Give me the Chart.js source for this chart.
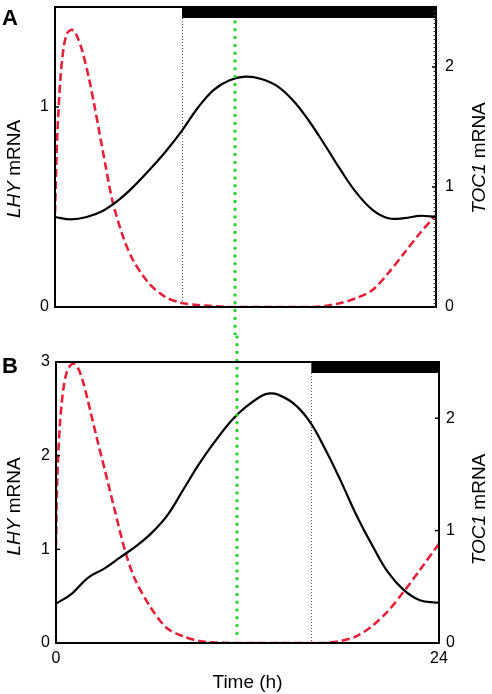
<!DOCTYPE html>
<html>
<head>
<meta charset="utf-8">
<script src="https://cdn.jsdelivr.net/npm/chart.js@4.4.1/dist/chart.umd.min.js"></script>
<style>
  html, body { margin: 0; padding: 0; background: #fff; }
  canvas { display: block; }
</style>
</head>
<body>
<canvas id="panelA" width="492" height="335"></canvas>
<canvas id="panelB" width="492" height="359"></canvas>
<script>
// ---- data ----
// Panel A
const tocTimeA = [0, 1, 2, 3, 4, 5, 6, 7, 8, 9, 10, 11, 12, 13, 14, 15, 16, 17, 18, 19, 20, 21, 22, 23, 24];
const tocA     = [0.75, 0.73, 0.75, 0.80, 0.89, 1.01, 1.15, 1.30, 1.47, 1.66, 1.81, 1.89, 1.92, 1.90, 1.84, 1.72, 1.55, 1.35, 1.14, 0.95, 0.81, 0.74, 0.74, 0.76, 0.75];
const lhyTimeA = [0, 0.15, 0.36, 0.57, 0.78, 1.0, 1.2, 1.41, 1.72, 2.15, 2.5, 2.78, 3.2, 3.62, 4.25, 4.88, 5.9, 6.95, 8, 9, 10, 11, 16, 17, 18, 19, 20, 21, 22, 23, 24];
const lhyA     = [0.47, 0.87, 1.16, 1.31, 1.37, 1.385, 1.38, 1.35, 1.28, 1.14, 1.00, 0.88, 0.70, 0.53, 0.36, 0.24, 0.12, 0.05, 0.02, 0.01, 0.004, 0, 0, 0.005, 0.02, 0.045, 0.085, 0.17, 0.27, 0.37, 0.46];

// Panel B
const tocTimeB = [0, 1, 2, 3, 4, 5, 6, 7, 8, 9, 10, 11, 11.9, 12.9, 13.4, 13.9, 14.9, 15.9, 16.85, 17.85, 18.85, 19.85, 20.8, 21.8, 22.8, 23.8, 24];
const tocB     = [0.35, 0.44, 0.58, 0.66, 0.76, 0.86, 0.98, 1.14, 1.37, 1.60, 1.80, 1.98, 2.10, 2.20, 2.22, 2.21, 2.13, 1.97, 1.73, 1.44, 1.13, 0.86, 0.63, 0.47, 0.38, 0.36, 0.36];
const lhyTimeB = [0, 0.08, 0.25, 0.46, 0.67, 0.88, 1.13, 1.4, 1.71, 1.98, 2.57, 3.1, 3.62, 4.32, 4.95, 5.89, 6.94, 7.98, 9.02, 10, 11, 16.5, 17.8, 18.8, 19.8, 20.8, 21.8, 22.8, 24];
const lhyB     = [1.03, 1.75, 2.35, 2.71, 2.89, 2.96, 2.98, 2.93, 2.78, 2.60, 2.18, 1.82, 1.46, 0.99, 0.68, 0.39, 0.16, 0.07, 0.02, 0.005, 0, 0, 0.02, 0.07, 0.18, 0.34, 0.55, 0.78, 1.06];

// axes
const timeTicks = [0, 24];
const lhyTicksA = [0, 1];
const lhyTicksB = [0, 1, 2, 3];
const tocTicks  = [0, 1, 2];
const lhyMaxA = 1.5, lhyMaxB = 3, tocMax = 2.5;

// dark period starts, and the marker time (green line)
const darkStartA = 8;
const darkStartB = 16;
const markerTime = 11.34;

const FONT = "'Liberation Sans', Arial, Helvetica, sans-serif";
const RED = "#e3223a";

const pts = (ts, vs) => ts.map((t, i) => ({ x: t, y: vs[i] }));

function drawVerticalTitle(ctx, x, y, parts) {
  ctx.save();
  ctx.translate(x, y);
  ctx.rotate(-Math.PI / 2);
  ctx.textBaseline = "middle";
  ctx.textAlign = "left";
  ctx.fillStyle = "#000";
  const widths = parts.map(p => { ctx.font = p.font; return ctx.measureText(p.text).width; });
  let pos = -widths.reduce((a, b) => a + b, 0) / 2;
  parts.forEach((p, i) => { ctx.font = p.font; ctx.fillText(p.text, pos, 0); pos += widths[i]; });
  ctx.restore();
}

function seg(ctx, x1, y1, x2, y2) {
  ctx.beginPath(); ctx.moveTo(x1, y1); ctx.lineTo(x2, y2); ctx.stroke();
}

const panelDecor = {
  id: "panelDecor",
  beforeDatasetsDraw(chart, args, o) {
    const { ctx, chartArea: a, scales: { x } } = chart;
    const xd = Math.round(x.getPixelForValue(o.darkStart)) + 0.5;
    ctx.save();
    ctx.strokeStyle = "#555";
    ctx.lineWidth = 1;
    ctx.setLineDash([1, 2]);
    seg(ctx, xd, a.top + 11, xd, a.bottom);
    ctx.restore();
  },
  afterDatasetsDraw(chart, args, o) {
    const { ctx, chartArea: a, scales: { x, yL, yR } } = chart;
    ctx.save();

    // green marker, runs through the gap between the panels
    const xg = x.getPixelForValue(markerTime);
    ctx.strokeStyle = "#2fd133";
    ctx.lineWidth = 3.5;
    ctx.lineCap = "round";
    ctx.setLineDash([0, 7.8]);
    if (o.letter === "A") seg(ctx, xg, a.top + 15, xg, chart.height);
    else seg(ctx, xg, 2, xg, a.bottom - 5);
    ctx.setLineDash([]);
    ctx.lineCap = "butt";

    // dark bar
    const xd = x.getPixelForValue(o.darkStart);
    ctx.fillStyle = "#000";
    ctx.fillRect(xd, a.top, a.right - xd, 11);

    // frame
    ctx.strokeStyle = "#000";
    ctx.lineWidth = 2;
    ctx.strokeRect(a.left, a.top, a.width, a.height);

    // inward major ticks
    ctx.lineWidth = 1.5;
    yL.ticks.forEach(t => { const py = yL.getPixelForValue(t.value); seg(ctx, a.left, py, a.left + 4, py); });
    yR.ticks.forEach(t => { const py = yR.getPixelForValue(t.value); seg(ctx, a.right - 4, py, a.right, py); });

    // fine minor ticks on the right axis (panel A only)
    if (o.minorStep) {
      ctx.lineWidth = 1;
      ctx.strokeStyle = "#333";
      for (let v = 0; v <= tocMax; v += o.minorStep) {
        const py = Math.round(yR.getPixelForValue(v)) + 0.5;
        seg(ctx, a.right - 2.5, py, a.right, py);
      }
    }

    // axis titles
    const cy = (a.top + a.bottom) / 2;
    drawVerticalTitle(ctx, 15, cy + o.leftShift, [
      { text: "LHY", font: `italic 19px ${FONT}` },
      { text: " mRNA", font: `19px ${FONT}` }
    ]);
    drawVerticalTitle(ctx, 480, cy + o.rightShift, [
      { text: "TOC1", font: `italic 19px ${FONT}` },
      { text: " mRNA", font: `19px ${FONT}` }
    ]);

    // panel letter
    ctx.fillStyle = "#000";
    ctx.font = `bold 22px ${FONT}`;
    ctx.textAlign = "left";
    ctx.textBaseline = "alphabetic";
    ctx.fillText(o.letter, 2, o.letterY);

    ctx.restore();
  }
};

function yScale(pos, max, ticks, width, pad) {
  return {
    position: pos,
    min: 0,
    max,
    grid: { display: false, drawTicks: false },
    border: { display: false },
    ticks: { color: "#000", font: { family: FONT, size: 16 }, padding: pad, callback: v => String(v) },
    afterBuildTicks: s => { s.ticks = ticks.map(v => ({ value: v })); },
    afterFit: s => { s.width = width; s.paddingTop = 0; s.paddingBottom = 0; }
  };
}

function lineSets(tocT, toc, lhyT, lhy) {
  return [
    {
      data: pts(tocT, toc), yAxisID: "yR",
      borderColor: "#000", borderWidth: 2.2,
      tension: 0.4
    },
    {
      data: pts(lhyT, lhy), yAxisID: "yL",
      borderColor: RED, borderWidth: 2.6, borderDash: [8, 4],
      tension: 0.3
    }
  ];
}

const common = {
  responsive: false,
  animation: false,
  devicePixelRatio: 1,
  elements: { point: { radius: 0 } },
  events: []
};

new Chart(document.getElementById("panelA"), {
  type: "line",
  data: { datasets: lineSets(tocTimeA, tocA, lhyTimeA, lhyA) },
  plugins: [panelDecor],
  options: {
    ...common,
    layout: { padding: { top: 7, bottom: 28, left: 0, right: 0 } },
    plugins: {
      legend: { display: false },
      tooltip: { enabled: false },
      panelDecor: { letter: "A", letterY: 25, darkStart: darkStartA, leftShift: 12, rightShift: 1, minorStep: 1 / 30 }
    },
    scales: {
      x: { type: "linear", min: 0, max: 24, display: false },
      yL: yScale("left", lhyMaxA, lhyTicksA, 55, 6),
      yR: yScale("right", tocMax, tocTicks, 56, 9)
    }
  }
});

new Chart(document.getElementById("panelB"), {
  type: "line",
  data: { datasets: lineSets(tocTimeB, tocB, lhyTimeB, lhyB) },
  plugins: [panelDecor],
  options: {
    ...common,
    layout: { padding: { top: 27, bottom: 0, left: 0, right: 0 } },
    plugins: {
      legend: { display: false },
      tooltip: { enabled: false },
      panelDecor: { letter: "B", letterY: 38, darkStart: darkStartB, leftShift: 4, rightShift: 7, minorStep: 0 }
    },
    scales: {
      x: {
        type: "linear", min: 0, max: 24, position: "bottom",
        grid: { display: false, drawTicks: false },
        border: { display: false },
        ticks: { color: "#000", font: { family: FONT, size: 16 }, padding: 6, maxRotation: 0, autoSkip: false },
        afterBuildTicks: s => { s.ticks = timeTicks.map(v => ({ value: v })); },
        title: { display: true, text: "Time (h)", color: "#000", font: { family: FONT, size: 19 }, padding: 0 },
        afterFit: s => { s.height = 51; s.paddingLeft = 0; s.paddingRight = 0; }
      },
      yL: yScale("left", lhyMaxB, lhyTicksB, 56, 6),
      yR: yScale("right", tocMax, tocTicks, 53, 7)
    }
  }
});
</script>
</body>
</html>
